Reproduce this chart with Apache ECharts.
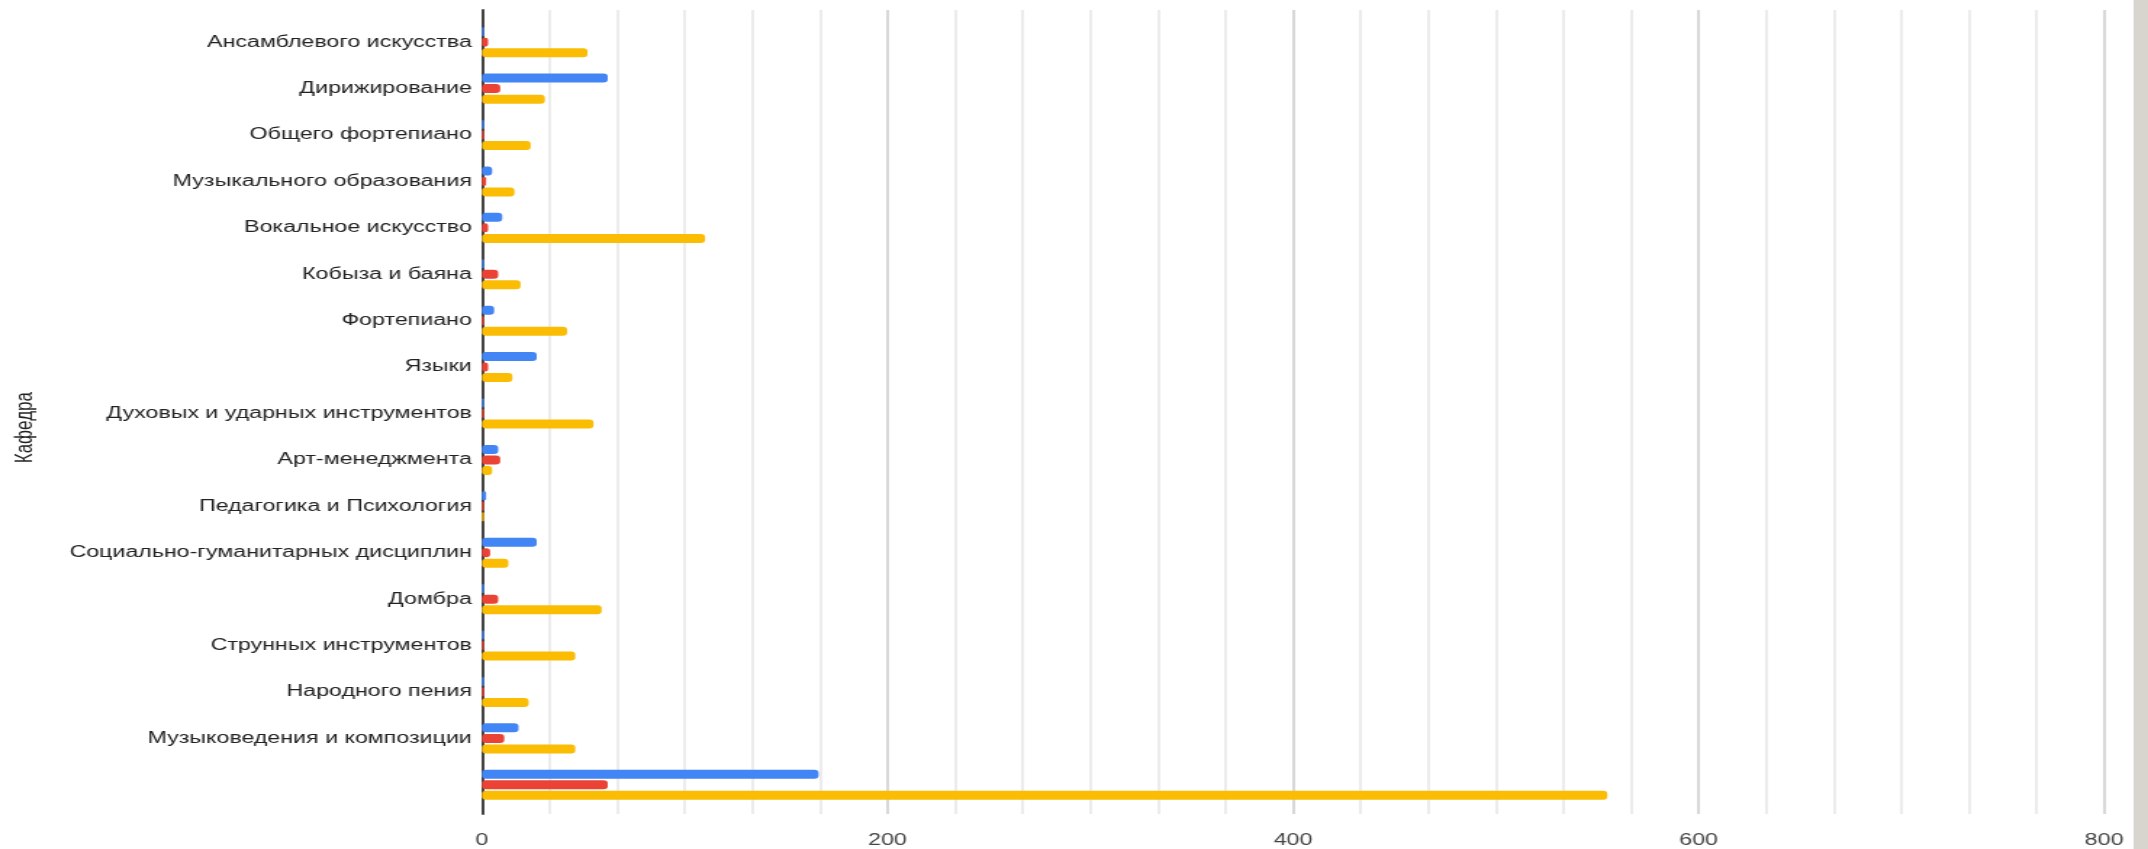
<!DOCTYPE html>
<html>
<head>
<meta charset="utf-8">
<script src="https://cdn.jsdelivr.net/npm/echarts@6/dist/echarts.min.js"></script>
<style>
html,body{margin:0;padding:0;background:#fff;overflow:hidden;}
#wrap{width:2148px;height:849px;overflow:hidden;position:relative;background:#fff;}
#chart{width:1481px;height:849px;transform:scaleX(1.4504);transform-origin:0 0;}
</style>
</head>
<body>
<div id="wrap"><div id="chart"></div></div>
<script>
const categories = [
  "Ансамблевого искусства",
  "Дирижирование",
  "Общего фортепиано",
  "Музыкального образования",
  "Вокальное искусство",
  "Кобыза и баяна",
  "Фортепиано",
  "Языки",
  "Духовых и ударных инструментов",
  "Арт-менеджмента",
  "Педагогика и Психология",
  "Социально-гуманитарных дисциплин",
  "Домбра",
  "Струнных инструментов",
  "Народного пения",
  "Музыковедения и композиции",
  ""
];
const seriesBlue   = [1, 62, 1, 5, 10, 1, 6, 27, 1, 8, 2, 27, 1, 1, 1, 18, 166];
const seriesRed    = [3, 9, 1, 2, 3, 8, 1, 3, 1, 9, 1, 4, 8, 1, 1, 11, 62];
const seriesYellow = [52, 31, 24, 16, 110, 19, 42, 15, 55, 5, 1, 13, 59, 46, 23, 46, 555];
const xTicks = [0, 200, 400, 600, 800];
const axisTitle = "Кафедра";

const chart = echarts.init(document.getElementById('chart'));
const fontFam = 'Liberation Sans, Arial, sans-serif';
function bar(name, data, color) {
  return {
    name: name, type: 'bar', data: data,
    xAxisIndex: 1, yAxisIndex: 1,
    barWidth: 9, barGap: '17%', barCategoryGap: '33%',
    itemStyle: { color: color, borderRadius: 3 },
    silent: true
  };
}
const L = 332.3, R = 30.3;
chart.setOption({
  animation: false,
  backgroundColor: '#ffffff',
  grid: [
    { left: L, right: R, top: 10, bottom: 31, containLabel: false },
    { left: L, right: R, top: 19, bottom: 41, containLabel: false }
  ],
  xAxis: [{
    gridIndex: 0, type: 'value', min: xTicks[0], max: xTicks[xTicks.length - 1], interval: 200,
    axisLine: { show: false }, axisTick: { show: false },
    axisLabel: { color: '#444', fontSize: 16, fontFamily: fontFam, margin: 19 },
    splitLine: { show: true, lineStyle: { color: '#cbcbcb', width: 1.5 } },
    minorTick: { show: false, splitNumber: 6 },
    minorSplitLine: { show: true, lineStyle: { color: '#e6e6e6', width: 1.5 } }
  }, {
    gridIndex: 1, type: 'value', min: xTicks[0], max: xTicks[xTicks.length - 1], show: false
  }],
  yAxis: [{
    gridIndex: 0, type: 'value', min: 0, max: 1,
    axisLine: { show: true, lineStyle: { color: '#444', width: 2 } },
    axisTick: { show: false }, axisLabel: { show: false }, splitLine: { show: false }
  }, {
    gridIndex: 1, type: 'category', data: categories, inverse: true,
    axisLine: { show: false },
    axisTick: { show: false },
    axisLabel: { color: '#222', fontSize: 16, fontFamily: fontFam, margin: 7 }
  }],
  series: [
    bar('Синий', seriesBlue, '#4285F4'),
    bar('Красный', seriesRed, '#EA4335'),
    bar('Жёлтый', seriesYellow, '#FBBC04')
  ],
  graphic: [{
    type: 'text', left: 9, top: 392, rotation: Math.PI / 2,
    style: { text: axisTitle, fill: '#222', fontSize: 17, fontFamily: fontFam },
    silent: true
  }, {
    type: 'rect', right: 0, top: 0,
    shape: { width: 10, height: 849 },
    style: { fill: '#d8d4ce' }, silent: true
  }]
});
</script>
</body>
</html>
